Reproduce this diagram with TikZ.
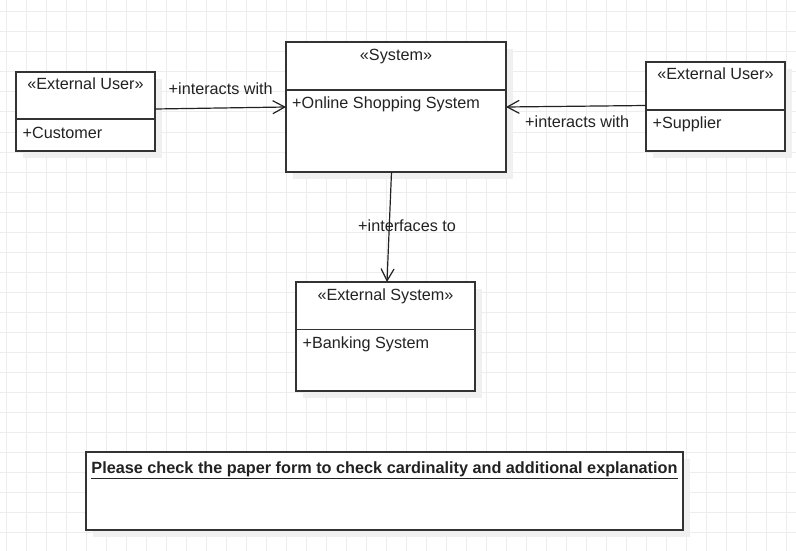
\documentclass[tikz,border=0pt]{standalone}
\usepackage{fontspec}
\setmainfont{Liberation Sans}
\usetikzlibrary{arrows.meta}
\definecolor{gridc}{HTML}{EDEDED}
\definecolor{shadowc}{HTML}{F0F0F0}
\definecolor{borderc}{HTML}{333333}
\definecolor{textc}{HTML}{222222}
\begin{document}
\begin{tikzpicture}[x=1pt,y=-1pt,
  umlbox/.style={draw=borderc, line width=1.5pt, fill=white, rectangle, inner sep=0pt, outer sep=0pt, anchor=north west},
  shade/.style={fill=shadowc},
  sepline/.style={draw=borderc, line width=1.5pt},
  txt/.style={inner sep=0pt, anchor=base, text=textc, font=\fontsize{16.2}{19}\selectfont},
  attr/.style={txt, anchor=base west},
  conn/.style={draw=textc, line width=1.2pt, -{Straight Barb[length=12pt,width=13pt]}},
  gridline/.style={draw=gridc, line width=1pt}
]
\useasboundingbox (0,0) rectangle (796,551);
\fill[white] (0,0) rectangle (796,551);
\foreach \i in {0,...,39} \draw[gridline] (6+20*\i,0) -- (6+20*\i,551);
\foreach \j in {0,...,26} \draw[gridline] (0,12+20*\j) -- (796,12+20*\j);

% shadows
\fill[shade] (23,79) rectangle (162,158);
\fill[shade] (293,49) rectangle (513,179);
\fill[shade] (653,69) rectangle (792,158);
\fill[shade] (303,289) rectangle (482,398);
\fill[shade] (93,459) rectangle (690,537);

% Customer
\node[umlbox, minimum width=139pt, minimum height=79pt] (cust) at (16,72) {};
\draw[sepline] (16,119) -- (155,119);
\node[txt] (custT) at (85.5,90) {«External User»};
\node[attr] (custA) at (22.5,138.5) {+Customer};

% System
\node[umlbox, minimum width=220pt, minimum height=130pt] (sys) at (286,42) {};
\draw[sepline] (286,90) -- (506,90);
\node[txt] (sysT) at (396,60.5) {«System»};
\node[attr] (sysA) at (292,108.3) {+Online Shopping System};

% Supplier
\node[umlbox, minimum width=139pt, minimum height=89pt] (supp) at (646,62) {};
\draw[sepline] (646,110) -- (785,110);
\node[txt] (suppT) at (715.5,80) {«External User»};
\node[attr] (suppA) at (652.5,128.3) {+Supplier};

% Banking
\node[umlbox, minimum width=179pt, minimum height=109pt] (bank) at (296,282) {};
\draw[sepline] (296,329.5) -- (475,329.5);
\node[txt] (bankT) at (385.5,300.5) {«External System»};
\node[attr] (bankA) at (302.5,348) {+Banking System};

% Note
\node[umlbox, minimum width=597pt, minimum height=78pt] (note) at (86,452) {};
\node[txt, font=\fontsize{16.25}{19}\selectfont\bfseries] (noteT) at (384.5,473) {\underline{Please check the paper form to check cardinality and additional explanation}};

% connectors
\draw[conn] (cust.east |- 0,109) -- (sys.west |- 0,107);
\node[attr] (l1) at (168.5,94.3) {+interacts with};
\draw[conn] (supp.west |- 0,105.5) -- (sys.east |- 0,107);
\node[attr] (l2) at (525,127.7) {+interacts with};
\draw[conn] (391.5,0 |- sys.south) -- (387,0 |- bank.north);
\node[attr] (l3) at (358,231) {+interfaces to};
\end{tikzpicture}
\end{document}
